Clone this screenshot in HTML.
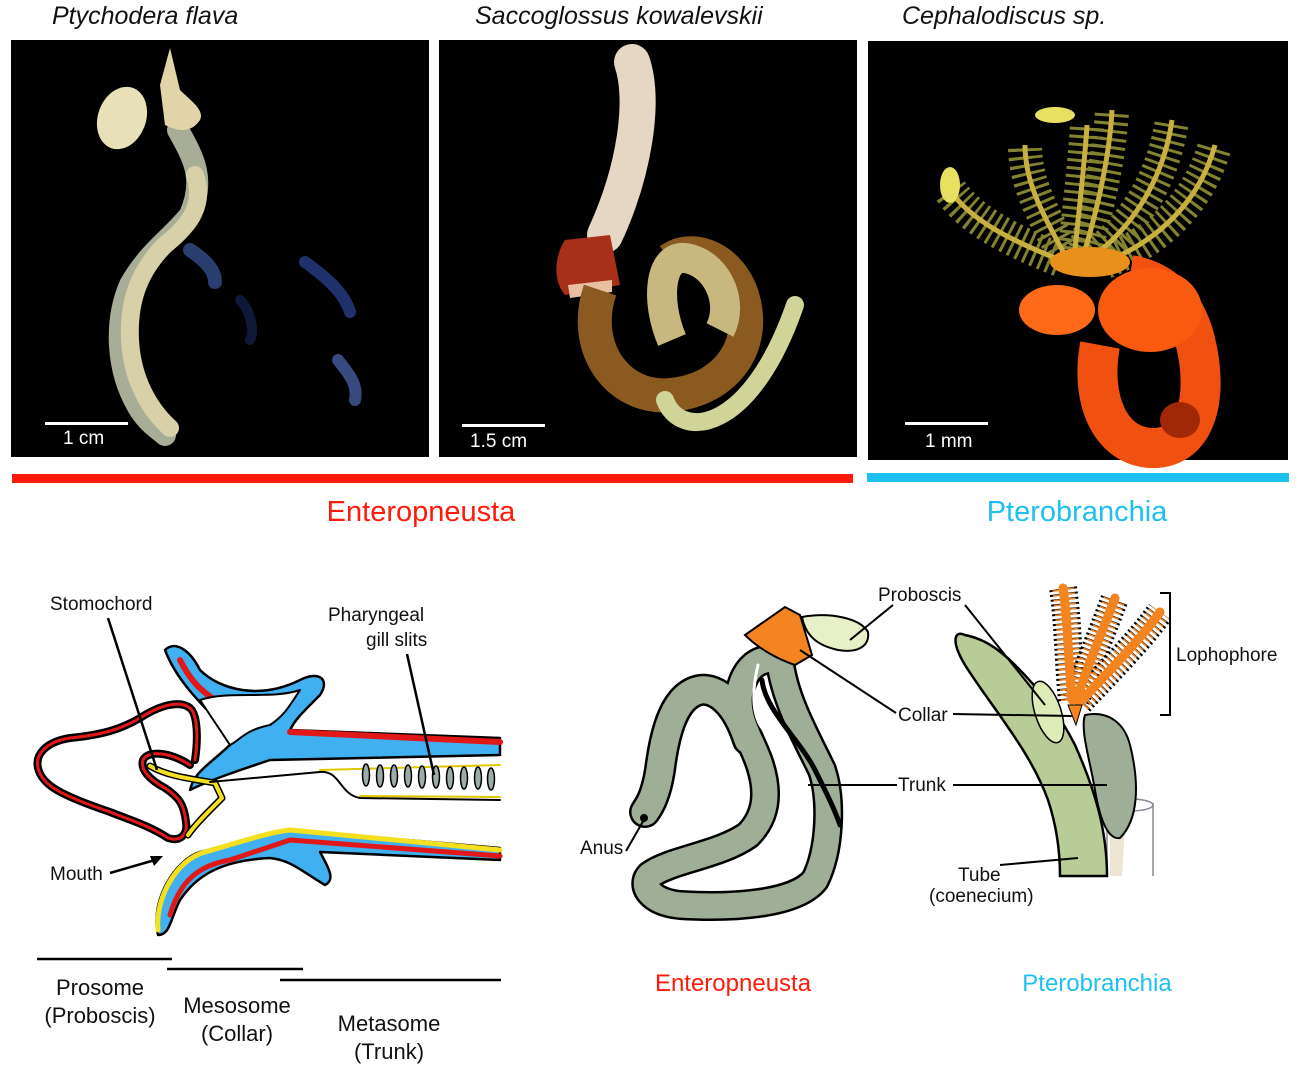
<!DOCTYPE html>
<html><head><meta charset="utf-8"><style>
body{margin:0;background:#fff;}
svg{display:block;font-family:"Liberation Sans",Arial,sans-serif;}
</style></head><body>
<svg width="1298" height="1071" viewBox="0 0 1298 1071" xmlns="http://www.w3.org/2000/svg">
<g font-style="italic" font-size="25" fill="#111">
<text x="52" y="24">Ptychodera flava</text>
<text x="475" y="24">Saccoglossus kowalevskii</text>
<text x="902" y="24">Cephalodiscus sp.</text>
</g>
<rect x="11" y="40" width="418" height="417" fill="#000"/>
<rect x="439" y="40" width="418" height="417" fill="#000"/>
<rect x="868" y="41" width="420" height="419" fill="#000"/>
<!-- panel1 worm -->
<g fill="none" stroke-linecap="round">
<path d="M178 130 C195 160 205 180 190 215 C170 240 150 250 130 285 C115 320 115 370 140 410 C150 425 160 430 165 435" stroke="#a8ad98" stroke-width="22"/>
<path d="M195 175 C205 205 190 225 165 245 C140 270 128 300 130 340 C132 380 150 410 170 428" stroke="#d8d0a8" stroke-width="18"/>
<path d="M190 250 C205 260 215 270 215 282" stroke="#2a3e70" stroke-width="14"/>
<path d="M305 262 C330 280 345 295 350 312" stroke="#20306a" stroke-width="12"/>
<path d="M338 360 C350 375 358 385 355 400" stroke="#384a80" stroke-width="12"/>
<path d="M240 300 C250 310 255 330 250 340" stroke="#10183a" stroke-width="10"/>
</g>
<ellipse cx="122" cy="118" rx="24" ry="32" transform="rotate(20 122 118)" fill="#e8e0b8"/>
<path d="M160 85 L170 48 L180 90 C190 100 205 110 200 120 C190 135 175 130 165 125Z" fill="#e0d4a8"/>
<rect x="45" y="422" width="83" height="3" fill="#fff"/>
<text x="63" y="444" font-size="19" fill="#fff">1 cm</text>
<!-- panel2 worm -->
<path d="M632 62 C645 100 635 170 605 235" stroke="#e6d6c4" stroke-width="36" fill="none" stroke-linecap="round"/>
<path d="M565 240 L610 235 L620 285 L565 295 C552 280 555 255 565 240Z" fill="#a8301a"/>
<path d="M568 285 L612 280 L612 292 L570 298Z" fill="#e8c0a0"/>
<path d="M600 290 C580 350 620 400 670 395 C730 390 760 340 740 290 C725 255 690 245 670 260" stroke="#8b5a20" stroke-width="34" fill="none"/>
<path d="M672 340 C655 300 660 255 685 258 C715 262 735 300 720 330" stroke="#c8b880" stroke-width="30" fill="none"/>
<path d="M665 400 C680 440 750 435 795 305" stroke="#d0d498" stroke-width="18" fill="none" stroke-linecap="round"/>
<rect x="462" y="424" width="83" height="3" fill="#fff"/>
<text x="470" y="447" font-size="19" fill="#fff">1.5 cm</text>
<!-- panel3 -->
<g fill="none" stroke-linecap="butt">
<g stroke="#9a9a38" stroke-width="34" stroke-dasharray="3 5" opacity="0.85">
<path d="M1060 260 C1010 240 970 220 950 190"/>
<path d="M1065 255 C1040 210 1025 180 1025 145"/>
<path d="M1075 250 C1080 200 1085 160 1087 125"/>
<path d="M1085 250 C1100 200 1110 150 1112 110"/>
<path d="M1095 255 C1140 220 1165 170 1172 120"/>
<path d="M1105 262 C1160 240 1200 200 1215 145"/>
</g>
<g stroke="#c8b040" stroke-width="5">
<path d="M1060 260 C1010 240 970 220 950 190"/>
<path d="M1065 255 C1040 210 1025 180 1025 145"/>
<path d="M1075 250 C1080 200 1085 160 1087 125"/>
<path d="M1085 250 C1100 200 1110 150 1112 110"/>
<path d="M1095 255 C1140 220 1165 170 1172 120"/>
<path d="M1105 262 C1160 240 1200 200 1215 145"/>
</g>
</g>
<ellipse cx="950" cy="185" rx="10" ry="18" fill="#e8e060"/>
<ellipse cx="1055" cy="115" rx="20" ry="8" fill="#e8e060"/>
<path d="M1100 345 C1090 400 1110 445 1150 448 C1195 450 1210 400 1195 340 C1185 300 1160 280 1130 275" stroke="#f05010" stroke-width="40" fill="none"/>
<ellipse cx="1150" cy="310" rx="52" ry="42" fill="#f85a10"/>
<ellipse cx="1090" cy="262" rx="40" ry="15" fill="#e8901a"/>
<ellipse cx="1057" cy="310" rx="38" ry="25" fill="#ff6a18"/>
<ellipse cx="1180" cy="420" rx="20" ry="18" fill="#a02808"/>
<rect x="905" y="422" width="83" height="3" fill="#fff"/>
<text x="925" y="447" font-size="19" fill="#fff">1 mm</text>
<rect x="12" y="474" width="841" height="9" fill="#ff1a0a"/>
<rect x="867" y="473" width="422" height="9" fill="#1ec0f0"/>
<text x="421" y="521" font-size="29" fill="#ff1a0a" text-anchor="middle">Enteropneusta</text>
<text x="1077" y="521" font-size="29" fill="#1ec0f0" text-anchor="middle">Pterobranchia</text>

<!-- left diagram -->
<g stroke-linejoin="round" stroke-linecap="round" fill="none">
<path d="M195 760 C198 740 198 715 190 708 C180 700 160 705 140 718 C120 730 100 735 70 738 C45 742 35 755 38 768 C42 785 60 795 110 812 C130 820 150 826 168 838 C180 842 188 835 186 822 C184 805 180 798 165 788 C150 780 140 770 143 760 C148 750 170 752 190 765" stroke="#000" stroke-width="8"/>
<path d="M195 760 C198 740 198 715 190 708 C180 700 160 705 140 718 C120 730 100 735 70 738 C45 742 35 755 38 768 C42 785 60 795 110 812 C130 820 150 826 168 838 C180 842 188 835 186 822 C184 805 180 798 165 788 C150 780 140 770 143 760 C148 750 170 752 190 765" stroke="#e01818" stroke-width="3"/>
<path d="M165 650 C175 640 190 650 200 670 C220 690 260 700 300 680 C320 670 330 680 320 695 C300 715 295 720 290 730 L500 738 L500 755 L270 760 C240 770 210 780 190 790 C195 770 210 765 235 740 C220 720 180 690 165 650 Z" fill="#40b0f0" stroke="#000" stroke-width="2.5"/>
<path d="M180 660 C190 680 200 690 215 700 M290 732 L500 742" stroke="#e01818" stroke-width="6"/>
<path d="M200 700 C230 690 270 700 300 690 C290 705 285 715 270 725 C245 730 240 740 230 745 C220 730 210 715 200 700Z" fill="#fff" stroke="#000" stroke-width="2"/>
<path d="M150 766 C165 775 185 778 215 783 L222 798 C205 815 195 825 188 835" stroke="#000" stroke-width="7"/>
<path d="M150 766 C165 775 185 778 215 783 L222 798 C205 815 195 825 188 835" stroke="#f5e020" stroke-width="4"/>
<path d="M210 782 L320 772 C340 770 340 795 360 798 L500 800" stroke="#000" stroke-width="2"/>
<path d="M320 770 L500 765 M360 796 L500 797" stroke="#e0c800" stroke-width="2"/>
<g fill="#9aaba8" stroke="#000" stroke-width="1.5">
<ellipse cx="366" cy="775" rx="3.5" ry="11"/><ellipse cx="380" cy="776" rx="3.5" ry="11"/><ellipse cx="394" cy="776" rx="3.5" ry="11"/><ellipse cx="408" cy="776" rx="3.5" ry="11"/><ellipse cx="422" cy="777" rx="3.5" ry="11"/><ellipse cx="436" cy="777" rx="3.5" ry="11"/><ellipse cx="450" cy="778" rx="3.5" ry="11"/><ellipse cx="464" cy="778" rx="3.5" ry="11"/><ellipse cx="478" cy="778" rx="3.5" ry="11"/><ellipse cx="491" cy="779" rx="3.5" ry="11"/>
</g>
<path d="M158 935 C150 900 175 860 200 852 C240 842 270 832 290 830 L500 848 L500 860 L320 852 C330 870 335 880 325 885 C300 870 290 860 270 858 C230 860 200 870 180 900 C170 920 170 935 158 935 Z" fill="#40b0f0" stroke="#000" stroke-width="2.5"/>
<path d="M158 930 C155 900 175 860 205 852 C240 842 270 832 290 830 L500 850" stroke="#f5e020" stroke-width="5"/>
<path d="M170 915 C180 880 200 865 230 860 L290 840 L500 856" stroke="#e01818" stroke-width="5"/>
</g>
<g font-size="19" fill="#111">
<text x="50" y="610">Stomochord</text>
<text x="328" y="621">Pharyngeal</text>
<text x="366" y="646">gill slits</text>
<text x="50" y="880">Mouth</text>
</g>
<g stroke="#000" stroke-width="2.5">
<line x1="108" y1="618" x2="157" y2="770"/>
<line x1="407" y1="654" x2="434" y2="775"/>
<line x1="110" y1="873" x2="155" y2="860"/>
<line x1="37" y1="959" x2="172" y2="959"/>
<line x1="167" y1="969" x2="303" y2="969"/>
<line x1="280" y1="980" x2="501" y2="980"/>
</g>
<polygon points="163,856 150,856 154,866" fill="#000"/>
<g font-size="22" fill="#111" text-anchor="middle">
<text x="100" y="995">Prosome</text><text x="100" y="1023">(Proboscis)</text>
<text x="237" y="1013">Mesosome</text><text x="237" y="1041">(Collar)</text>
<text x="389" y="1031">Metasome</text><text x="389" y="1059">(Trunk)</text>
</g>

<!-- right: enteropneust worm -->
<g fill="none" stroke-linecap="round" stroke-linejoin="round">
<path d="M780 662 C785 700 805 735 822 770 C832 800 830 850 815 880 C795 905 730 908 680 905 C650 902 640 885 650 875 C670 860 720 855 748 835 C768 815 768 790 760 765 C752 740 735 720 740 690 C745 670 755 662 765 660" stroke="#000" stroke-width="30"/>
<path d="M748 740 C735 700 715 688 700 690 C675 695 665 730 660 770 C656 795 650 805 645 812" stroke="#000" stroke-width="32"/>
<path d="M780 662 C785 700 805 735 822 770 C832 800 830 850 815 880 C795 905 730 908 680 905 C650 902 640 885 650 875 C670 860 720 855 748 835 C768 815 768 790 760 765 C752 740 735 720 740 690 C745 670 755 662 765 660" stroke="#9fae96" stroke-width="25"/>
<path d="M748 740 C735 700 715 688 700 690 C675 695 665 730 660 770 C656 795 650 805 645 812" stroke="#9fae96" stroke-width="27"/>
<path d="M758 665 C752 690 752 710 760 725 C770 740 780 750 788 760" stroke="#fff" stroke-width="3"/>
<path d="M762 680 C765 710 800 740 815 770 C825 790 835 810 840 825" stroke="#000" stroke-width="5"/>
</g>
<circle cx="644" cy="818" r="4" fill="#000"/>
<path d="M802 617 C830 612 860 618 868 632 C870 648 855 653 838 650 C820 646 806 638 802 617Z" fill="#e8f0c8" stroke="#000" stroke-width="2"/>
<path d="M745 635 L785 607 L800 615 L812 655 L795 665 C780 660 760 650 745 635Z" fill="#f48420" stroke="#000" stroke-width="2"/>
<g stroke="#000" stroke-width="2">
<line x1="850" y1="640" x2="893" y2="605"/>
<line x1="800" y1="650" x2="896" y2="713"/>
<line x1="808" y1="785" x2="897" y2="785"/>
<line x1="626" y1="851" x2="645" y2="818"/>
</g>
<!-- pterobranch -->
<path d="M1153 876 L1153 803 M1107 803 L1107 876" stroke="#889" stroke-width="1.5" fill="none"/>
<ellipse cx="1130" cy="805" rx="23" ry="6" fill="none" stroke="#889" stroke-width="1.5"/>
<path d="M1110 830 L1125 830 L1122 876 L1110 876Z" fill="#ece6d2"/>
<path d="M965 635 C955 630 950 640 965 665 C990 705 1030 750 1048 800 C1058 830 1060 855 1060 876 L1107 876 C1107 830 1095 790 1075 745 C1060 715 1040 690 1015 665 C995 645 980 638 965 635Z" fill="#b8cc98" stroke="#000" stroke-width="2.5"/>
<ellipse cx="1048" cy="712" rx="13" ry="32" transform="rotate(-18 1048 712)" fill="#dcebb8" stroke="#000" stroke-width="1.5"/>
<path d="M1085 715 C1110 710 1125 725 1130 745 C1140 785 1138 820 1120 838 C1108 840 1100 820 1095 790 C1090 760 1080 730 1085 715Z" fill="#9fae96" stroke="#000" stroke-width="2"/>
<g fill="none">
<g stroke="#000" stroke-width="28" stroke-dasharray="2 3" stroke-linecap="butt">
<path d="M1072 700 C1068 660 1068 620 1063 588"/>
<path d="M1076 700 C1090 660 1105 625 1115 598"/>
<path d="M1080 702 C1110 670 1140 640 1160 612"/>
</g>
<g stroke="#f48420" stroke-width="22" stroke-dasharray="1.5 3.5" stroke-linecap="butt">
<path d="M1072 700 C1068 660 1068 620 1063 588"/>
<path d="M1076 700 C1090 660 1105 625 1115 598"/>
<path d="M1080 702 C1110 670 1140 640 1160 612"/>
</g>
<g stroke="#f48420" stroke-width="9" stroke-linecap="round">
<path d="M1072 700 C1068 660 1068 620 1063 588"/>
<path d="M1076 700 C1090 660 1105 625 1115 598"/>
<path d="M1080 702 C1110 670 1140 640 1160 612"/>
</g>
</g>
<path d="M1068 705 L1082 705 L1076 725Z" fill="#f48420" stroke="#000" stroke-width="1"/>
<g stroke="#000" stroke-width="2" fill="none">
<path d="M1160 593 L1170 593 L1170 715 L1160 715"/>
<line x1="965" y1="605" x2="1045" y2="705"/>
<line x1="953" y1="714" x2="1072" y2="716"/>
<line x1="953" y1="785" x2="1107" y2="785"/>
<line x1="1000" y1="865" x2="1078" y2="858"/>
</g>
<g font-size="19" fill="#111">
<text x="878" y="601">Proboscis</text>
<text x="898" y="721">Collar</text>
<text x="898" y="791">Trunk</text>
<text x="580" y="854">Anus</text>
<text x="1176" y="661">Lophophore</text>
<text x="958" y="881">Tube</text>
<text x="929" y="902">(coenecium)</text>
</g>
<text x="733" y="991" font-size="24" fill="#ff1a0a" text-anchor="middle">Enteropneusta</text>
<text x="1097" y="991" font-size="24" fill="#1ec0f0" text-anchor="middle">Pterobranchia</text>
</svg>
</body></html>
